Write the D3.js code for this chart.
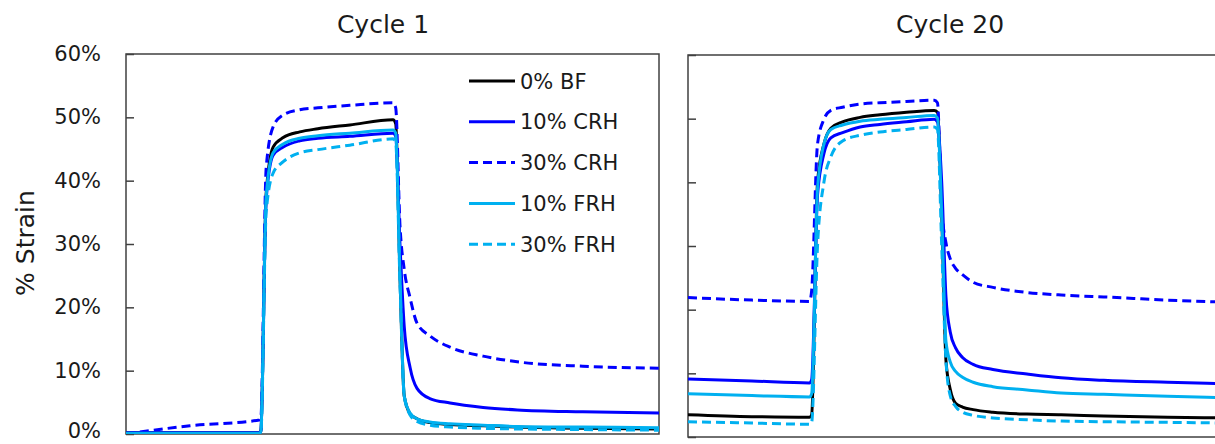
<!DOCTYPE html>
<html>
<head>
<meta charset="utf-8">
<script src="https://cdn.jsdelivr.net/npm/d3@7"></script>
<style>
  body { margin: 0; background: #fff; }
  svg { display: block; font-family: "DejaVu Sans", sans-serif; }
</style>
</head>
<body>
<div id="chart"></div>
<script>
// time points (arbitrary units, 0-100 across each panel)
var t1 = [0, 12, 25, 25.3, 26.3, 27.6, 29.5, 32.6, 36, 42, 50.1, 50.6, 51.4, 52.2, 53.3, 54.6, 57, 60.8, 67, 73.4, 85.7, 100];
var t2 = [0, 12, 22.8, 23.2, 24.3, 25.5, 26.8, 29, 32.3, 36, 41, 46.2, 46.8, 47.6, 48.4, 49.2, 50.2, 51.5, 53.5, 57.2, 63.6, 70, 78, 90, 100];

// Cycle 1 strain (%)
var bf_c1    = [0.2, 0.2, 0.2, 0.5, 38, 45.3, 46.8, 47.7, 48.2, 48.8, 49.6, 49.0, 25, 6, 3.2, 2.4, 1.8, 1.5, 1.3, 1.1, 0.9, 0.8];
var crh10_c1 = [0.2, 0.2, 0.2, 0.5, 37, 44, 45.3, 46.3, 46.7, 47.0, 47.5, 47.0, 30, 17, 10.5, 7.2, 5.6, 4.9, 4.2, 3.8, 3.5, 3.3];
var crh30_c1 = [0, 1.3, 2.2, 2.5, 42, 48.5, 50.4, 51.2, 51.5, 51.9, 52.3, 51.5, 33, 26, 21.5, 17.5, 15.5, 13.7, 12.3, 11.4, 10.7, 10.4];
var frh10_c1 = [0.1, 0.1, 0.1, 0.4, 37.5, 44.4, 45.8, 46.7, 47.1, 47.5, 48.0, 47.5, 25, 6, 3.3, 2.4, 1.9, 1.6, 1.4, 1.2, 1.1, 1.0];
var frh30_c1 = [0, 0, 0, 0.3, 35, 41.2, 43.0, 44.4, 44.9, 45.6, 46.6, 46.0, 24, 6, 3.0, 2.0, 1.4, 1.1, 0.9, 0.8, 0.7, 0.6];

// Cycle 20 strain (%)
var bf_c20    = [3.5, 3.2, 3.1, 3.5, 40, 46, 48.5, 49.5, 50.2, 50.6, 51.0, 51.3, 51.0, 35, 12, 7.5, 5.3, 4.7, 4.3, 3.9, 3.6, 3.5, 3.3, 3.1, 3.0];
var crh10_c20 = [9.1, 8.8, 8.5, 9, 38, 44.5, 47, 47.8, 48.7, 49.1, 49.5, 49.9, 49.5, 40, 22, 16.5, 14, 12.5, 11.4, 10.6, 9.9, 9.3, 8.9, 8.6, 8.4];
var crh30_c20 = [21.9, 21.5, 21.3, 23, 46, 49.9, 51.3, 51.8, 52.3, 52.5, 52.7, 52.9, 52.5, 36, 30.5, 28, 26.5, 25.5, 24.3, 23.5, 22.7, 22.3, 22, 21.5, 21.2];
var frh10_c20 = [6.8, 6.5, 6.3, 6.8, 39, 46, 48.3, 49.0, 49.6, 49.9, 50.2, 50.5, 50.1, 35, 15, 11.8, 10.3, 9.4, 8.6, 7.9, 7.4, 6.9, 6.7, 6.4, 6.2];
var frh30_c20 = [2.4, 2.2, 2.0, 2.3, 30, 40, 44, 46.5, 47.4, 47.9, 48.3, 48.7, 48.3, 30, 12, 6.5, 4.8, 3.9, 3.4, 3.0, 2.7, 2.5, 2.4, 2.3, 2.2];

var seriesNames = ["0% BF", "10% CRH", "30% CRH", "10% FRH", "30% FRH"];
var seriesColors = ["#000000", "#0000FF", "#0000FF", "#00B0F0", "#00B0F0"];
var seriesDashed = [false, false, true, false, true];
var yTicks = [0, 10, 20, 30, 40, 50, 60];

var W = 1215, H = 444;
var svg = d3.select("#chart").append("svg")
    .attr("width", W)
    .attr("height", H);

var line = function(x, y) {
  return d3.line()
    .x(function(d) { return x(d[0]); })
    .y(function(d) { return y(d[1]); })
    .curve(d3.curveMonotoneX);
};

function draw_panel(title, titleX, box, times, values, showLabels) {
  var x = d3.scaleLinear().domain([0, 100]).range([box.left, box.right]);
  var y = d3.scaleLinear().domain([0, 60]).range([box.bottom, box.top]);

  // frame
  svg.append("rect")
    .attr("x", box.left).attr("y", box.top)
    .attr("width", box.right - box.left).attr("height", box.bottom - box.top)
    .attr("fill", "none").attr("stroke", "#404040").attr("stroke-width", 1.5);

  // y axis with inside ticks
  var ax = svg.append("g")
    .attr("transform", "translate(" + box.left + ",0)")
    .call(d3.axisRight(y).tickValues(yTicks).tickSize(8).tickFormat(""));
  ax.select(".domain").remove();
  ax.selectAll("line").attr("stroke", "#404040").attr("stroke-width", 1.5);

  if (showLabels) {
    svg.selectAll(null)
      .data(yTicks)
      .enter()
      .append("text")
      .attr("x", 101)
      // bottom label nudged up so it stays inside the page
      .attr("y", function(d) { return d === 0 ? y(d) - 3 : y(d); })
      .attr("dy", "0.33em")
      .attr("text-anchor", "end")
      .style("font-size", "21px")
      .attr("fill", "#1a1a1a")
      .text(function(d) { return d + "%"; });
  }

  svg.append("text")
    .attr("x", titleX)
    .attr("y", 33)
    .attr("text-anchor", "middle")
    .style("font-size", "25px")
    .attr("fill", "#1a1a1a")
    .text(title);

  var clipId = "clip" + titleX;
  svg.append("clipPath").attr("id", clipId)
    .append("rect")
    .attr("x", box.left).attr("y", box.top - 10)
    .attr("width", box.right - box.left).attr("height", box.bottom - box.top + 10);

  var g = svg.append("g").attr("clip-path", "url(#" + clipId + ")");
  values.forEach(function(vals, i) {
    var pts = times.map(function(t, j) { return [t, vals[j]]; });
    g.append("path")
      .datum(pts)
      .attr("fill", "none")
      .attr("stroke", seriesColors[i])
      .attr("stroke-width", 3)
      .attr("stroke-dasharray", seriesDashed[i] ? "9,5" : null)
      .attr("d", line(x, y));
  });
}

draw_panel("Cycle 1", 383, {left: 126, right: 659, top: 54, bottom: 434}, t1,
  [bf_c1, crh10_c1, crh30_c1, frh10_c1, frh30_c1], true);
draw_panel("Cycle 20", 950, {left: 688, right: 1221, top: 55, bottom: 437}, t2,
  [bf_c20, crh10_c20, crh30_c20, frh10_c20, frh30_c20], false);

// y label
svg.append("text")
  .attr("transform", "translate(34,243) rotate(-90)")
  .attr("text-anchor", "middle")
  .style("font-size", "25px")
  .attr("fill", "#1a1a1a")
  .text("% Strain");

// legend
var leg = svg.append("g").attr("transform", "translate(469,81)");
seriesNames.forEach(function(name, i) {
  var row = leg.append("g").attr("transform", "translate(0," + (i * 40.8) + ")");
  row.append("line")
    .attr("x1", 0).attr("x2", 46)
    .attr("stroke", seriesColors[i])
    .attr("stroke-width", 3)
    .attr("stroke-dasharray", seriesDashed[i] ? "9,5" : null);
  row.append("text")
    .attr("x", 51)
    .attr("dy", "0.36em")
    .style("font-size", "21px")
    .attr("fill", "#1a1a1a")
    .text(name);
});
</script>
</body>
</html>
